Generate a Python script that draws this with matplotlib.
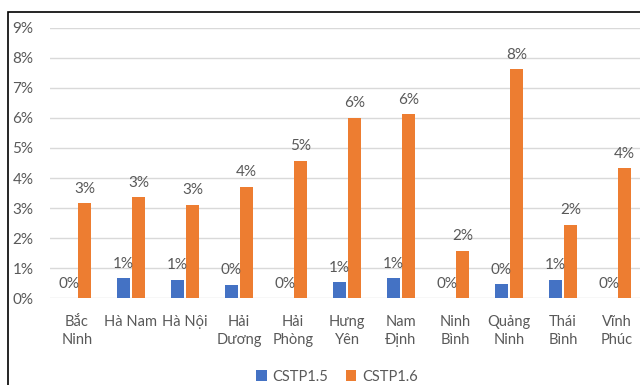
import matplotlib
matplotlib.use("Agg")
import matplotlib.pyplot as plt
from matplotlib.patches import Rectangle
from matplotlib.ticker import FuncFormatter
import numpy as np

plt.rcParams['font.family'] = ['Lato', 'DejaVu Sans']

provinces = ["Bắc\nNinh", "Hà Nam", "Hà Nội", "Hải\nDương", "Hải\nPhòng", "Hưng\nYên",
             "Nam\nĐịnh", "Ninh\nBình", "Quảng\nNinh", "Thái\nBình", "Vĩnh\nPhúc"]
cstp15 = [0.0, 0.67, 0.62, 0.44, 0.0, 0.53, 0.67, 0.0, 0.47, 0.61, 0.0]
cstp16 = [3.16, 3.36, 3.11, 3.71, 4.57, 6.01, 6.12, 1.57, 7.62, 2.44, 4.32]
y_ticks = [0, 1, 2, 3, 4, 5, 6, 7, 8, 9]

blue = "#4472C4"
orange = "#ED7D31"
grey_text = "#595959"

fig = plt.figure(figsize=(6.4, 3.85), dpi=100)
ax = fig.add_axes([50 / 640, 1 - 298.3 / 385, 594 / 640, (298.3 - 27.7) / 385])

x = np.arange(len(provinces))
w = 0.235
off = 0.14
b1 = ax.bar(x - off, cstp15, width=w, color=blue, label="CSTP1.5", zorder=3)
b2 = ax.bar(x + off, cstp16, width=w, color=orange, label="CSTP1.6", zorder=3)

# value labels above each bar, rounded to whole percent
for bars, vals in ((b1, cstp15), (b2, cstp16)):
    for rect, v in zip(bars, vals):
        ax.annotate(f"{round(v):.0f}%", (rect.get_x() + rect.get_width() / 2, v),
                    xytext=(0, 5.5), textcoords="offset points", ha="center", va="bottom",
                    fontsize=11, color=grey_text)

ax.set_xlim(-0.5, len(provinces) - 0.5)
ax.set_ylim(0, 9)
ax.set_yticks(y_ticks)
ax.yaxis.set_major_formatter(FuncFormatter(lambda v, p: f"{v:.0f}%"))
ax.set_xticks(x)
ax.set_xticklabels(provinces, fontsize=10.5, color=grey_text, linespacing=1.35)
ax.tick_params(axis="y", length=0, pad=12, labelsize=11, labelcolor=grey_text)
ax.tick_params(axis="x", length=0, pad=12)
ax.grid(axis="y", color="#D9D9D9", linewidth=1, zorder=0)
for s in ax.spines.values():
    s.set_visible(False)

fig.legend(handles=[b1, b2], loc="center", bbox_to_anchor=(337 / 640, 1 - 376.7 / 385),
           ncol=2, frameon=False, fontsize=10.5, labelcolor=grey_text,
           handlelength=0.7, handleheight=0.7, handletextpad=0.4, columnspacing=1.2)

# chart-area frame
fig.patches.append(Rectangle((8 / 640, -0.05), 1.1, 1 - 12 / 385 + 0.05,
                             transform=fig.transFigure, fill=False,
                             edgecolor="black", linewidth=1.2, zorder=10))

fig.savefig("out.png", dpi=100)
